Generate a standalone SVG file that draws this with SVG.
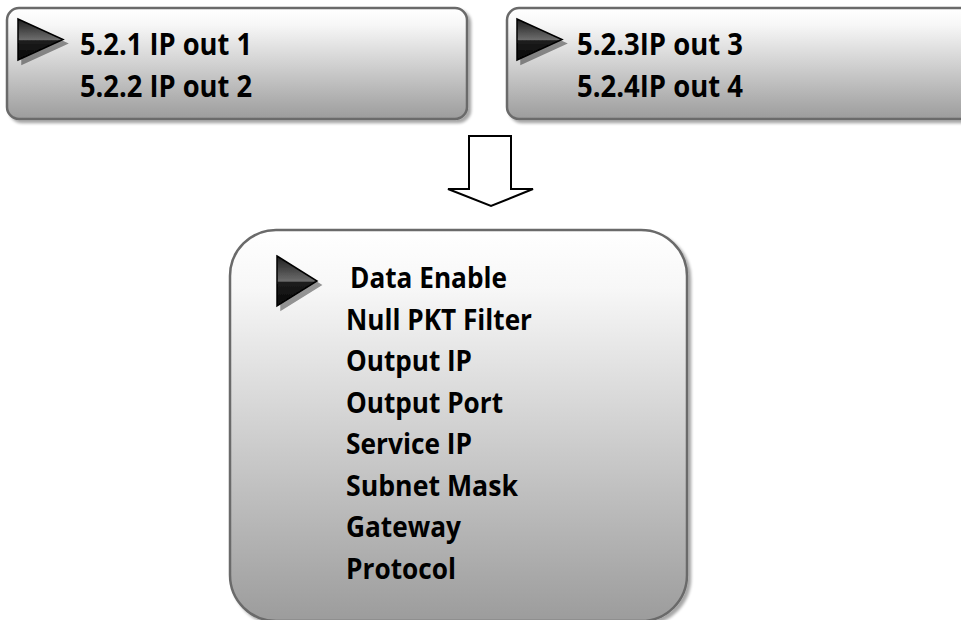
<svg xmlns="http://www.w3.org/2000/svg" width="961" height="620" viewBox="0 0 961 620">
  <defs>
    <linearGradient id="boxGrad" x1="0" y1="0" x2="0" y2="1">
      <stop offset="0" stop-color="#ffffff"/>
      <stop offset="0.15" stop-color="#f7f7f7"/>
      <stop offset="1" stop-color="#9c9c9c"/>
    </linearGradient>
    <linearGradient id="triGrad" x1="0" y1="0" x2="0" y2="1">
      <stop offset="0" stop-color="#1c1c1c"/>
      <stop offset="0.5" stop-color="#6c6c6c"/>
      <stop offset="0.53" stop-color="#1e1e1e"/>
      <stop offset="1" stop-color="#050505"/>
    </linearGradient>
    <filter id="shadow" x="-10%" y="-10%" width="130%" height="130%">
      <feGaussianBlur in="SourceAlpha" stdDeviation="1.5"/>
      <feOffset dx="3" dy="3" result="b"/>
      <feComponentTransfer><feFuncA type="linear" slope="0.35"/></feComponentTransfer>
      <feMerge><feMergeNode/><feMergeNode in="SourceGraphic"/></feMerge>
    </filter>
    <filter id="triShadow" x="-20%" y="-20%" width="150%" height="150%">
      <feOffset in="SourceAlpha" dx="4" dy="4"/>
      <feComponentTransfer><feFuncA type="linear" slope="0.4"/></feComponentTransfer>
      <feMerge><feMergeNode/><feMergeNode in="SourceGraphic"/></feMerge>
    </filter>
  </defs>
  <style>
    .box { fill: url(#boxGrad); stroke: #6a6a6a; stroke-width: 2.5; filter: url(#shadow); }
    .tri { fill: url(#triGrad); stroke: #000; stroke-width: 1.5; stroke-linejoin: miter; filter: url(#triShadow); }
    .t { font-family: "Open Sans", "Liberation Sans", sans-serif; font-weight: bold; fill: #000; }
    .top { font-size: 30px; }
    .menu { font-size: 29px; }
    .arrow { fill: #fff; stroke: #000; stroke-width: 2; stroke-linejoin: miter; }
  </style>

  <g id="menu-out12">
    <rect class="box" x="7" y="8" width="460" height="111" rx="12" ry="12"/>
    <polygon class="tri" points="18,19 63,39.5 18,60"/>
    <text class="t top" x="80" y="55" textLength="172" lengthAdjust="spacingAndGlyphs">5.2.1 IP out 1</text>
    <text class="t top" x="80" y="97" textLength="172" lengthAdjust="spacingAndGlyphs">5.2.2 IP out 2</text>
  </g>

  <g id="menu-out34">
    <rect class="box" x="507" y="8" width="470" height="111" rx="12" ry="12"/>
    <polygon class="tri" points="517,19 562,39.5 517,60"/>
    <text class="t top" x="577" y="55" textLength="166" lengthAdjust="spacingAndGlyphs">5.2.3IP out 3</text>
    <text class="t top" x="577" y="97" textLength="166" lengthAdjust="spacingAndGlyphs">5.2.4IP out 4</text>
  </g>

  <g id="connectors">
    <path class="arrow" d="M469,136 H511 V189 H533 L491,206 L448,189 H469 Z"/>
  </g>

  <g id="menu-settings">
    <rect class="box" x="230" y="230" width="457" height="391" rx="46" ry="46"/>
    <polygon class="tri" points="277,256 317,281 277,306"/>
    <text class="t menu" x="350" y="288" textLength="157" lengthAdjust="spacingAndGlyphs">Data Enable</text>
    <text class="t menu" x="346" y="329.5" textLength="186" lengthAdjust="spacingAndGlyphs">Null PKT Filter</text>
    <text class="t menu" x="346" y="371" textLength="126" lengthAdjust="spacingAndGlyphs">Output IP</text>
    <text class="t menu" x="346" y="412.5" textLength="157" lengthAdjust="spacingAndGlyphs">Output Port</text>
    <text class="t menu" x="346" y="454" textLength="126" lengthAdjust="spacingAndGlyphs">Service IP</text>
    <text class="t menu" x="346" y="495.5" textLength="172" lengthAdjust="spacingAndGlyphs">Subnet Mask</text>
    <text class="t menu" x="346" y="537" textLength="115" lengthAdjust="spacingAndGlyphs">Gateway</text>
    <text class="t menu" x="346" y="578.5" textLength="110" lengthAdjust="spacingAndGlyphs">Protocol</text>
  </g>
</svg>
